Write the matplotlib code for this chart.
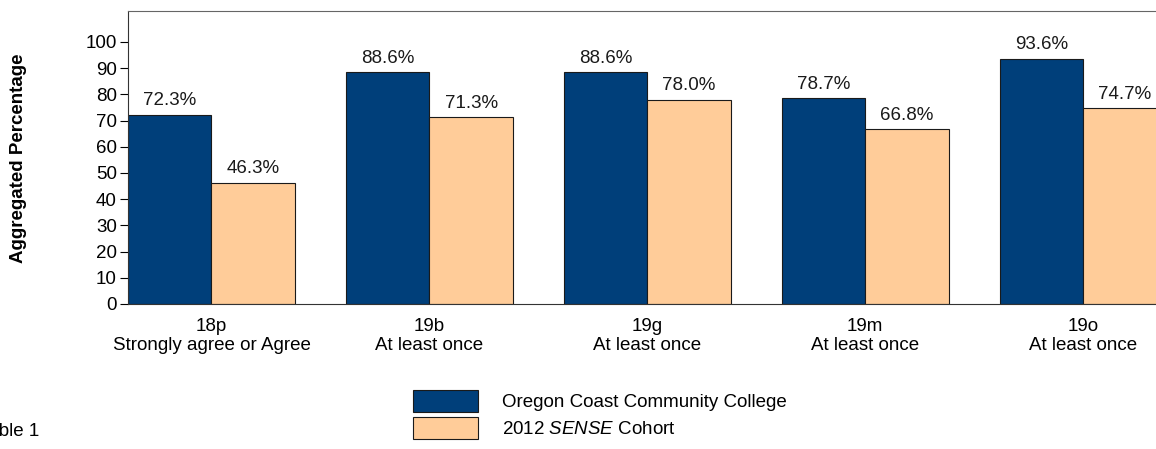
import matplotlib
matplotlib.use("Agg")
import matplotlib.pyplot as plt
from matplotlib.patches import Patch
import numpy as np

plt.rcParams['font.family'] = ['Liberation Sans', 'DejaVu Sans']
plt.rcParams['mathtext.fontset'] = 'custom'
plt.rcParams['mathtext.it'] = 'Liberation Sans:italic'
plt.rcParams['mathtext.rm'] = 'Liberation Sans'

categories = ["18p\nStrongly agree or Agree", "19b\nAt least once", "19g\nAt least once",
              "19m\nAt least once", "19o\nAt least once"]
college = [72.3, 88.6, 88.6, 78.7, 93.6]
cohort = [46.3, 71.3, 78.0, 66.8, 74.7]
series_names = ["Oregon Coast Community College", "2012 $\\it{SENSE}$ Cohort"]
yticks = list(range(0, 101, 10))

navy = "#003F7A"
peach = "#FFCC99"
FS = 13.5

W, H = 1156, 449
fig = plt.figure(figsize=(W/100, H/100), dpi=100)
ax = fig.add_axes([128/W, 1-304/H, (W-128)/W, (304-11)/H])

x = np.arange(len(categories))
bw = 0.383
b1 = ax.bar(x - bw/2, college, bw, color=navy, edgecolor="#1a1a1a", linewidth=0.8)
b2 = ax.bar(x + bw/2, cohort, bw, color=peach, edgecolor="#1a1a1a", linewidth=0.8)

for bars, vals in ((b1, college), (b2, cohort)):
    for b, v in zip(bars, vals):
        ax.text(b.get_x() + b.get_width()/2, v + 2.0, f"{v:.1f}%", ha="center", va="bottom",
                fontsize=FS, color="#1a1a1a")

ax.set_xlim(-bw, (W-211)/218)
ax.set_ylim(0, 111.8)
ax.set_yticks(yticks)
ax.set_yticklabels([str(t) for t in yticks], fontsize=FS)
ax.set_xticks(x)
ax.set_xticklabels(categories, fontsize=FS, linespacing=1.15)
ax.tick_params(axis="x", length=0, pad=10)
ax.tick_params(axis="y", length=6, width=0.8, pad=2, direction="out")
ax.spines["right"].set_visible(False)
ax.spines["top"].set_color("#666666")
ax.spines["left"].set_color("#333333")
ax.spines["bottom"].set_color("#333333")

fig.text(19/W, 1-158/H, "Aggregated Percentage", rotation=90, ha="center", va="center",
         fontsize=FS, fontweight="bold")

handles = [Patch(facecolor=navy, edgecolor="#1a1a1a", linewidth=0.8),
           Patch(facecolor=peach, edgecolor="#1a1a1a", linewidth=0.8)]
fig.legend(handles, series_names, loc="upper left", bbox_to_anchor=(413/W, 1-390/H),
           frameon=False, fontsize=FS, handlelength=3.47, handleheight=1.4,
           labelspacing=0.3, handletextpad=1.28, borderaxespad=0, borderpad=0)

fig.text(-21/W, 1-432/H, "Table 1", ha="left", va="center", fontsize=FS)

fig.savefig("out.png", dpi=100)
